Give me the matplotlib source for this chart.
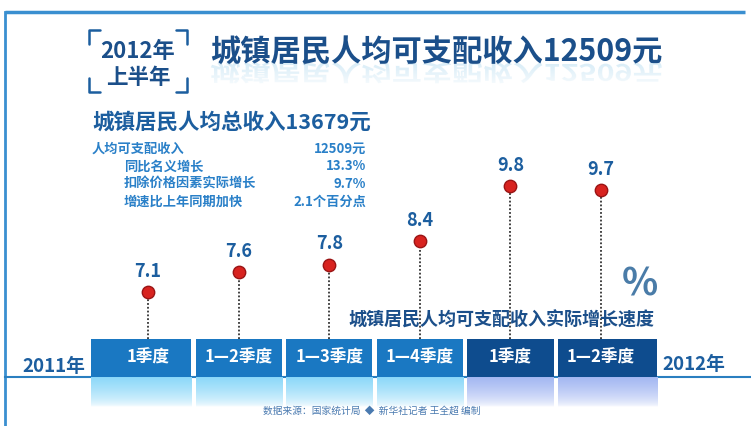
import matplotlib
matplotlib.use('Agg')
import matplotlib.pyplot as plt
import numpy as np
from matplotlib.textpath import TextPath
from matplotlib.font_manager import FontProperties
from matplotlib.patches import PathPatch
from matplotlib.transforms import Affine2D

plt.rcParams['font.family'] = ['Noto Sans CJK SC', 'DejaVu Sans']

# data
periods = ['1季度', '1—2季度', '1—3季度', '1—4季度', '1季度', '1—2季度']
growth = [7.1, 7.6, 7.8, 8.4, 9.8, 9.7]
period_year = [2011, 2011, 2011, 2011, 2012, 2012]

title = '城镇居民人均可支配收入12509元'
badge = ['2012年', '上半年']
subtitle = '城镇居民人均总收入13679元'
detail_labels = ['人均可支配收入', '同比名义增长', '扣除价格因素实际增长', '增速比上年同期加快']
detail_values = ['12509元', '13.3%', '9.7%', '2.1个百分点']
caption = '城镇居民人均可支配收入实际增长速度'
source = '数据来源：国家统计局  ◆  新华社记者 王全超 编制'

W, H = 751, 426
fig = plt.figure(figsize=(W / 100, H / 100), dpi=100)

# background layer in pixel coords
bg = fig.add_axes([0, 0, 1, 1])
bg.set_xlim(0, W)
bg.set_ylim(H, 0)
bg.axis('off')

# data layer: category index on x, growth % on y
X0, DX = 148, 90.6        # pixel x of first category, step
Y0, DY = 292, 39.26       # pixel y of 7.1, pixels per percent
def px2x(px):
    return (px - X0) / DX
def py2v(py):
    return 7.1 + (Y0 - py) / DY

ax = fig.add_axes([0, 0, 1, 1])
ax.patch.set_alpha(0)
ax.axis('off')

dark = '#1b4f8a'
mid = '#1c5e9f'
light = '#2a80c8'

# frame
bg.plot([5, 745], [12, 12], color='#3a8fd0', lw=2.5, solid_capstyle='butt')
bg.plot([5, 5], [12, H], color='#3a8fd0', lw=2)
bg.plot([5, W], [377, 377], color='#2a7fc0', lw=1.5)

# badge brackets
for (cx, cy, hx, vy) in [(89, 30, 1, 1), (187, 30, -1, 1), (89, 92, 1, -1), (187, 92, -1, -1)]:
    bg.plot([cx + 11 * hx, cx, cx], [cy, cy, cy + 14 * vy], color=mid, lw=1.8,
            solid_joinstyle='round', solid_capstyle='round')
bg.text(138, 51, badge[0], ha='center', va='center', fontsize=16, fontweight='bold', color=dark)
bg.text(138, 77, badge[1], ha='center', va='center', fontsize=15.5, fontweight='bold', color=dark)

# title + faded reflection
tsize = 21.8
bg.text(210, 52, title, ha='left', va='center', fontsize=tsize, fontweight='bold', color=dark)
fp = FontProperties(family='Noto Sans CJK SC', weight='bold')
tp = TextPath((0, 0), title, size=tsize * 100 / 72, prop=fp)
bg.add_patch(PathPatch(tp, transform=Affine2D().scale(1, 0.75).translate(210, 64) + bg.transData,
                       facecolor='#a9d6ef', edgecolor='none', alpha=0.5))
fade = np.ones((40, 1, 4))
fade[:, 0, 3] = np.linspace(0.15, 1, 40)
bg.imshow(fade, extent=(200, 680, 92, 63), aspect='auto', origin='upper', zorder=3)

# summary block
bg.text(92, 122, subtitle, ha='left', va='center', fontsize=15.5, fontweight='bold', color=mid)
for k, (lab, val) in enumerate(zip(detail_labels, detail_values)):
    y = 149 + 17.5 * k
    bg.text(92 if k == 0 else 124, y, lab, ha='left', va='center', fontsize=9.5,
            fontweight='bold', color=light)
    bg.text(366, y, val, ha='right', va='center', fontsize=9.5, fontweight='bold', color=light)

# quarter boxes
x = np.arange(len(growth))
edges = [px2x(91)] + [i + 0.5 for i in range(len(growth) - 1)] + [px2x(657)]
gap = 2.2 / DX
lefts = [edges[i] + (gap if i > 0 else 0) for i in range(len(growth))]
rights = [edges[i + 1] - (gap if i < len(growth) - 1 else 0) for i in range(len(growth))]
widths = [r - l for l, r in zip(lefts, rights)]
box_colors = ['#1a78c2' if yr == 2011 else '#0e4c8e' for yr in period_year]
fade_colors = [(0.55, 0.85, 0.98) if yr == 2011 else (0.64, 0.72, 0.95) for yr in period_year]
ax.bar(lefts, [py2v(339) - py2v(377)] * len(growth), width=widths, bottom=py2v(377),
       align='edge', color=box_colors, zorder=3)
alpha = np.linspace(1, 0, 60) ** 0.6
for l, r, c in zip(lefts, rights, fade_colors):
    grad = np.zeros((60, 1, 4))
    grad[:, 0, :3] = c
    grad[:, 0, 3] = alpha
    ax.imshow(grad, extent=(l, r, py2v(407), py2v(377.5)), aspect='auto', origin='upper', zorder=2)
for i, p in enumerate(periods):
    ax.text(i, py2v(358), p, ha='center', va='center', fontsize=12, fontweight='bold',
            color='white', zorder=4)

bg.text(22, 366, '2011年', ha='left', va='center', fontsize=13.5, fontweight='bold', color=mid)
bg.text(662, 364, '2012年', ha='left', va='center', fontsize=13.5, fontweight='bold', color=mid)

# stems, dots, labels
ax.vlines(x, py2v(339), growth, colors='#333333', lw=1.3, linestyles=(0, (1, 1.1)), zorder=2)
ax.scatter(x, growth, s=80, c='#d8231f', edgecolors='#9a1414', linewidths=1, zorder=5)
for i, v in enumerate(growth):
    ax.annotate(f'{v}', (i, v), xytext=(0, 15), textcoords='offset points', ha='center',
                va='center', fontsize=13, fontweight='bold', color=mid, zorder=6)

bg.text(640, 284, '%', ha='center', va='center', fontsize=27, fontweight='bold', color='#4a7ca8')
ax.text(px2x(501), py2v(320), caption, ha='center', va='center', fontsize=13,
        fontweight='bold', color=dark, zorder=6)

bg.text(372, 411, source, ha='center', va='center', fontsize=7, color='#4a7ab0')

bg.set_xlim(0, W)
bg.set_ylim(H, 0)
ax.set_xlim(px2x(0), px2x(W))
ax.set_ylim(py2v(H), py2v(0))

fig.savefig('out.png', dpi=100)
